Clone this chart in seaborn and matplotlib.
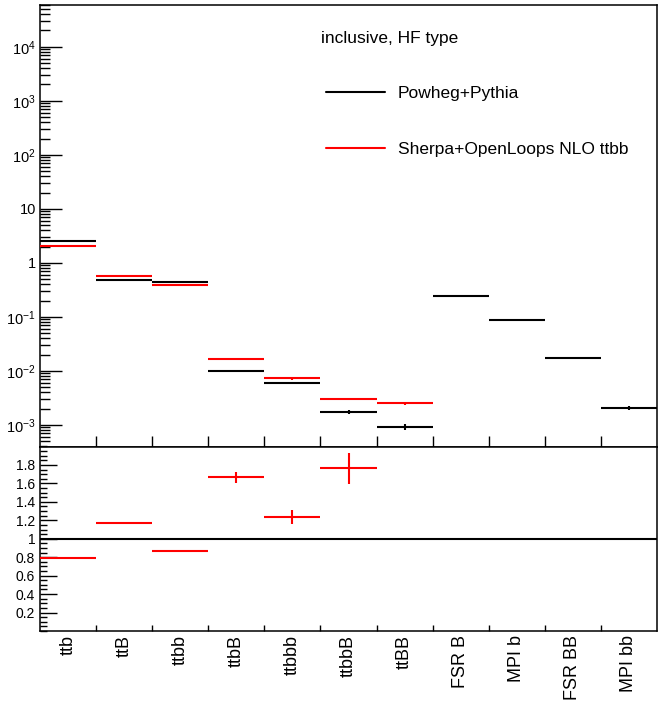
import numpy as np
import pandas as pd
import matplotlib
matplotlib.use("Agg")
import matplotlib.pyplot as plt
from matplotlib.lines import Line2D
from matplotlib.ticker import (FixedLocator, FuncFormatter, LogLocator,
                               MultipleLocator, NullFormatter)
import seaborn as sns

# ---- data -------------------------------------------------------------
categories = ["ttb", "ttB", "ttbb", "ttbB", "ttbbb", "ttbbB", "ttBB",
              "FSR B", "MPI b", "FSR BB", "MPI bb"]

# Powheg+Pythia fractions and relative uncertainties
powheg = [2.55, 0.484, 0.451, 0.00987, 0.00592, 0.00174, 0.000918,
          0.245, 0.0869, 0.01766, 0.00207]
powheg_relerr = [0.002, 0.003, 0.004, 0.02, 0.03, 0.08, 0.12,
                 0.005, 0.008, 0.02, 0.08]

# Sherpa+OpenLoops NLO ttbb (no entries for the FSR / MPI categories)
sherpa = [2.03, 0.568, 0.392, 0.01645, 0.00731, 0.00307, 0.00252,
          np.nan, np.nan, np.nan, np.nan]
sherpa_relerr = [0.002, 0.003, 0.004, 0.03, 0.05, 0.05, 0.05,
                 np.nan, np.nan, np.nan, np.nan]

legend_title = "inclusive, HF type"
series_names = ["Powheg+Pythia", "Sherpa+OpenLoops NLO ttbb"]
series_colors = ["black", "#ff0000"]

df = pd.DataFrame({
    "category": categories,
    "powheg": powheg, "powheg_relerr": powheg_relerr,
    "sherpa": sherpa, "sherpa_relerr": sherpa_relerr,
})
df["x"] = np.arange(len(df))
df["ratio"] = df["sherpa"] / df["powheg"]
df["ratio_err"] = df["ratio"] * np.sqrt(df["powheg_relerr"] ** 2 +
                                        df["sherpa_relerr"] ** 2)

# ---- style ------------------------------------------------------------
sns.set_theme(style="white")
plt.rcParams["font.family"] = ["Liberation Sans", "DejaVu Sans"]
plt.rcParams["mathtext.fontset"] = "custom"
plt.rcParams["mathtext.rm"] = "Liberation Sans"
plt.rcParams["mathtext.it"] = "Liberation Sans:italic"
plt.rcParams["mathtext.bf"] = "Liberation Sans:bold"
plt.rcParams["axes.linewidth"] = 1.1
plt.rcParams["axes.edgecolor"] = "black"
plt.rcParams["text.color"] = "black"
plt.rcParams["xtick.color"] = "black"
plt.rcParams["ytick.color"] = "black"

W, H = 658, 707
fig = plt.figure(figsize=(W / 100, H / 100), dpi=100)
left, right = 40, 657
ax_top = fig.add_axes([left / W, 1 - 446.5 / H, (right - left) / W, (446.5 - 4.5) / H])
ax_bot = fig.add_axes([left / W, 1 - 631 / H, (right - left) / W, (631 - 446.5) / H])

LW = 1.5


def draw_bins(ax, x, y, yerr, color):
    ax.hlines(y, x - 0.5, x + 0.5, color=color, lw=LW, zorder=3)
    ax.errorbar(x, y, yerr=yerr, fmt="none", ecolor=color,
                elinewidth=LW, capsize=0, zorder=3)


# ---- upper panel: fractions per category --------------------------------
draw_bins(ax_top, df["x"], df["powheg"], df["powheg"] * df["powheg_relerr"],
          series_colors[0])
m = df["sherpa"].notna()
draw_bins(ax_top, df.loc[m, "x"], df.loc[m, "sherpa"],
          df.loc[m, "sherpa"] * df.loc[m, "sherpa_relerr"], series_colors[1])

ax_top.set_yscale("log")
ax_top.set_ylim(4.0e-4, 6.04e4)
ax_top.set_xlim(-0.5, len(categories) - 0.5)


def log_label(v, pos):
    if np.isclose(v, 1):
        return "1"
    if np.isclose(v, 10):
        return "10"
    return r"$10^{%d}$" % int(round(np.log10(v)))


ax_top.yaxis.set_major_locator(LogLocator(base=10, numticks=20))
ax_top.yaxis.set_minor_locator(LogLocator(base=10, subs=np.arange(2, 10), numticks=40))
ax_top.yaxis.set_major_formatter(FuncFormatter(log_label))
ax_top.yaxis.set_minor_formatter(NullFormatter())
ax_top.tick_params(axis="y", which="major", direction="in", length=15.5,
                   width=1.0, labelsize=10.5, pad=3, left=True, right=False)
ax_top.tick_params(axis="y", which="minor", direction="in", length=7,
                   width=1.0, left=True, right=False)

edges = np.arange(len(categories) - 1) + 0.5
ax_top.xaxis.set_major_locator(FixedLocator(df["x"]))
ax_top.xaxis.set_minor_locator(FixedLocator(edges))
ax_top.tick_params(axis="x", which="major", length=0, labelbottom=False)
ax_top.tick_params(axis="x", which="minor", direction="in", length=8,
                   width=1.0, bottom=True, top=False)
for s in ax_top.spines.values():
    s.set_visible(True)

# legend
handles = [Line2D([], [], color=c, lw=LW) for c in series_colors]
ax_top.legend(handles, series_names, loc="upper left",
              bbox_to_anchor=(326 / W, 1 - 86 / H), bbox_transform=fig.transFigure,
              frameon=False, fontsize=12.5, handlelength=3.39,
              handletextpad=0.73, labelspacing=2.34, borderpad=0,
              borderaxespad=0)
fig.text(321 / W, 1 - 38 / H, legend_title, ha="left", va="center", fontsize=12.5)

# ---- lower panel: ratio Sherpa / Powheg ---------------------------------
ax_bot.axhline(1.0, color="black", lw=LW, zorder=2)
mr = df["ratio"].notna()
draw_bins(ax_bot, df.loc[mr, "x"], df.loc[mr, "ratio"], df.loc[mr, "ratio_err"],
          series_colors[1])

ax_bot.set_ylim(0, 2)
ax_bot.set_xlim(-0.5, len(categories) - 0.5)
ax_bot.yaxis.set_major_locator(FixedLocator(np.round(np.arange(0.2, 1.81, 0.2), 2)))
ax_bot.yaxis.set_minor_locator(MultipleLocator(0.05))
ax_bot.yaxis.set_major_formatter(FuncFormatter(lambda v, p: "%g" % v))
ax_bot.tick_params(axis="y", which="major", direction="in", length=12,
                   width=1.0, labelsize=10, pad=3.5, left=True, right=False)
ax_bot.tick_params(axis="y", which="minor", direction="in", length=5,
                   width=1.0, left=True, right=False)

ax_bot.xaxis.set_major_locator(FixedLocator(df["x"]))
ax_bot.xaxis.set_minor_locator(FixedLocator(edges))
ax_bot.set_xticklabels(df["category"], rotation=90, fontsize=13)
ax_bot.tick_params(axis="x", which="major", length=0, pad=3)
ax_bot.tick_params(axis="x", which="minor", direction="in", length=4.5,
                   width=1.0, bottom=True, top=False)
for s in ax_bot.spines.values():
    s.set_visible(True)

fig.savefig("out.png", dpi=100)
